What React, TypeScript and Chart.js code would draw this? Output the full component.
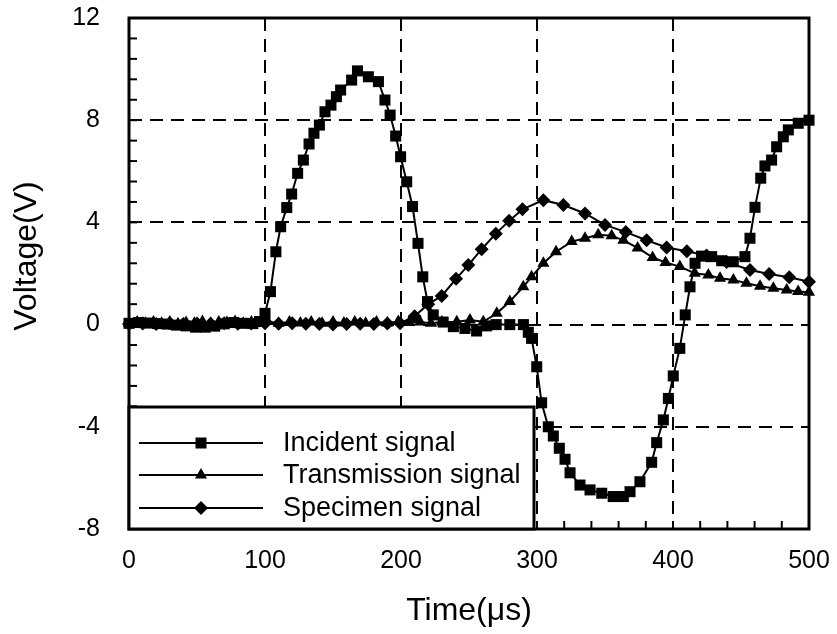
import React, { useEffect, useRef } from 'react';
import { Chart, registerables } from 'chart.js';

Chart.register(...registerables);

// ---------- data ----------
const incidentT = [0, 7, 14, 21, 28, 35, 42, 49, 56, 63, 70, 77, 84, 91, 96, 100, 104, 108, 111.5, 116, 119.6, 124, 128.2, 132.4, 136, 140, 144.1, 148.5, 152.5, 155.6, 163.7, 168, 176, 183.4, 188.2, 192, 196.1, 199.7, 204.2, 208.5, 212.5, 216, 219.5, 223.7, 231, 238.5, 247, 255.6, 263, 270, 280, 290, 293.6, 296, 299.8, 303.4, 308.3, 312, 316.4, 320.6, 324.3, 331.6, 339, 347.6, 356, 363.5, 368.4, 375.7, 384.3, 388, 392.9, 396.6, 400.2, 405, 409, 412.5, 416.2, 421, 428.4, 435.8, 444.3, 452.9, 456.6, 460.3, 464.5, 467.6, 472.5, 476.2, 481.1, 484.8, 492.1, 500];
const incidentV = [0.05, 0.08, 0.06, 0.04, 0.02, -0.02, -0.05, -0.1, -0.1, -0.06, 0.03, 0.08, 0.05, 0.04, 0.12, 0.44, 1.29, 2.85, 3.83, 4.58, 5.11, 5.92, 6.44, 7.07, 7.49, 7.81, 8.33, 8.59, 8.92, 9.18, 9.57, 9.93, 9.7, 9.51, 8.79, 8.2, 7.38, 6.57, 5.59, 4.62, 3.18, 1.87, 0.9, 0.38, 0.1, -0.08, -0.15, -0.25, -0.05, 0.0, 0.0, 0.0, -0.3, -0.54, -1.65, -3.06, -4.0, -4.36, -4.84, -5.27, -5.8, -6.28, -6.47, -6.6, -6.73, -6.73, -6.54, -6.15, -5.39, -4.62, -3.73, -2.89, -2.01, -0.93, 0.38, 1.48, 2.4, 2.68, 2.66, 2.5, 2.46, 2.66, 3.38, 4.59, 5.73, 6.21, 6.44, 6.96, 7.35, 7.62, 7.88, 8.0];

const transmissionT = [0, 6, 12, 18, 24, 30, 36, 42, 48, 54, 60, 66, 72, 78, 84, 90, 96, 102, 110, 118, 126, 134, 142, 150, 158, 166, 174, 182, 190, 198, 206, 214, 222, 230, 241, 250.7, 260.5, 270.4, 280, 289.9, 296, 304.7, 314, 325.5, 335.3, 345, 354.9, 363.5, 374, 385, 394.5, 405, 416, 426, 434.6, 444.4, 454, 464, 473.8, 483.6, 492, 500];
const transmissionV = [0.05, 0.1, 0.05, 0.1, 0.05, 0.1, 0.03, 0.08, 0.05, 0.12, 0.05, 0.1, 0.08, 0.12, 0.05, 0.1, 0.08, 0.12, 0.05, 0.1, 0.06, 0.1, 0.05, 0.1, 0.06, 0.1, 0.05, 0.1, 0.06, 0.12, 0.08, 0.1, 0.05, 0.1, 0.11, 0.18, 0.11, 0.44, 0.9, 1.48, 1.87, 2.4, 2.85, 3.25, 3.38, 3.52, 3.48, 3.3, 3.0, 2.63, 2.43, 2.27, 2.01, 1.94, 1.81, 1.75, 1.62, 1.5, 1.42, 1.35, 1.3, 1.27];

const specimenT = [0, 10, 20, 30, 40, 50, 60, 70, 80, 90, 100, 110, 120, 130, 140, 150, 160, 170, 180, 190, 199.3, 210, 220, 229.9, 240.5, 249.5, 259.3, 269.7, 279.5, 289.3, 304.7, 319.4, 335.3, 350, 365.3, 380.6, 395.3, 410.2, 424.7, 439.4, 456.6, 470.7, 485.5, 500];
const specimenV = [0.02, 0.04, 0.02, 0.05, 0.02, 0.04, 0.03, 0.05, 0.03, 0.04, 0.05, 0.03, 0.05, 0.03, 0.02, 0.0, 0.02, 0.03, 0.02, 0.04, 0.05, 0.33, 0.8, 1.12, 1.79, 2.33, 2.95, 3.56, 4.06, 4.51, 4.87, 4.68, 4.35, 3.9, 3.62, 3.3, 3.02, 2.87, 2.7, 2.45, 2.14, 1.98, 1.85, 1.68];

const seriesNames = ['Incident signal', 'Transmission signal', 'Specimen signal'];
const seriesMarkers = ['rect', 'triangle', 'rectRot'];

const xMin = 0;
const xMax = 500;
const xStep = 100;
const xMinorStep = 20;
const yMin = -8;
const yMax = 12;
const yStep = 4;
const yMinorStep = 0.8;

const xTitle = 'Time(μs)';
const yTitle = 'Voltage(V)';

const FONT = '"Liberation Sans", Arial, Helvetica, sans-serif';

function toPoints(t: number[], v: number[]) {
  return t.map((x, i) => ({ x, y: v[i] }));
}

function drawMarker(ctx: CanvasRenderingContext2D, kind: string, x: number, y: number) {
  ctx.beginPath();
  if (kind === 'rect') {
    ctx.rect(x - 5.5, y - 5.5, 11, 11);
  } else if (kind === 'triangle') {
    const r = 7;
    for (let k = 0; k < 3; k++) {
      const a = -Math.PI / 2 + (k * 2 * Math.PI) / 3;
      const px = x + Math.cos(a) * r;
      const py = y + Math.sin(a) * r;
      if (k === 0) ctx.moveTo(px, py);
      else ctx.lineTo(px, py);
    }
    ctx.closePath();
  } else {
    const r = 7;
    ctx.moveTo(x - r, y);
    ctx.lineTo(x, y - r);
    ctx.lineTo(x + r, y);
    ctx.lineTo(x, y + r);
    ctx.closePath();
  }
  ctx.fill();
}

const decorPlugin = {
  id: 'decor',
  beforeDatasetsDraw(chart: any) {
    const { ctx, chartArea: a, scales } = chart;
    const xs = scales.x;
    const ys = scales.y;
    ctx.save();
    ctx.strokeStyle = '#000';
    ctx.lineWidth = 2;
    ctx.setLineDash([13, 8]);
    for (let v = xMin + xStep; v < xMax; v += xStep) {
      const px = Math.round(xs.getPixelForValue(v));
      ctx.beginPath();
      ctx.moveTo(px, a.top);
      ctx.lineTo(px, a.bottom);
      ctx.stroke();
    }
    for (let v = yMin + yStep; v < yMax; v += yStep) {
      const py = Math.round(ys.getPixelForValue(v));
      ctx.beginPath();
      ctx.moveTo(a.left, py);
      ctx.lineTo(a.right, py);
      ctx.stroke();
    }
    ctx.restore();
  },
  afterDatasetsDraw(chart: any) {
    const { ctx, chartArea: a, scales } = chart;
    const xs = scales.x;
    const ys = scales.y;
    ctx.save();
    ctx.strokeStyle = '#000';
    ctx.fillStyle = '#000';
    ctx.setLineDash([]);
    // minor/major ticks, pointing inward
    ctx.lineWidth = 2;
    const nx = Math.round((xMax - xMin) / xMinorStep);
    for (let i = 1; i < nx; i++) {
      const px = xs.getPixelForValue(xMin + i * xMinorStep);
      ctx.beginPath();
      ctx.moveTo(px, a.bottom);
      ctx.lineTo(px, a.bottom - 8);
      ctx.stroke();
    }
    const ny = Math.round((yMax - yMin) / yMinorStep);
    for (let i = 1; i < ny; i++) {
      const py = ys.getPixelForValue(yMin + i * yMinorStep);
      ctx.beginPath();
      ctx.moveTo(a.left, py);
      ctx.lineTo(a.left + 8, py);
      ctx.stroke();
    }
    // frame
    ctx.lineWidth = 3;
    ctx.strokeRect(a.left, a.top, a.right - a.left, a.bottom - a.top);

    // legend box
    const lx = a.left;
    const lw = 405;
    const lh = 122;
    const ly = a.bottom - lh;
    ctx.fillStyle = '#fff';
    ctx.fillRect(lx, ly, lw, lh);
    ctx.lineWidth = 3;
    ctx.strokeStyle = '#000';
    ctx.strokeRect(lx, ly, lw, lh);
    const rows = [36, 68, 101];
    ctx.font = `27px ${FONT}`;
    ctx.textBaseline = 'middle';
    ctx.textAlign = 'left';
    seriesNames.forEach((name, i) => {
      const ry = ly + rows[i];
      ctx.strokeStyle = '#000';
      ctx.lineWidth = 2;
      ctx.beginPath();
      ctx.moveTo(lx + 10, ry);
      ctx.lineTo(lx + 134, ry);
      ctx.stroke();
      ctx.fillStyle = '#000';
      drawMarker(ctx, seriesMarkers[i], lx + 72, ry);
      ctx.fillText(name, lx + 154, ry + 1);
    });

    // axis titles
    ctx.fillStyle = '#000';
    ctx.font = `32px ${FONT}`;
    ctx.textAlign = 'center';
    ctx.textBaseline = 'alphabetic';
    ctx.fillText(xTitle, (a.left + a.right) / 2, 620);
    ctx.save();
    ctx.translate(36, 256);
    ctx.rotate(-Math.PI / 2);
    ctx.fillText(yTitle, 0, 0);
    ctx.restore();
    ctx.restore();
  },
};

export default function App() {
  const canvasRef = useRef<HTMLCanvasElement | null>(null);

  useEffect(() => {
    const canvas = canvasRef.current;
    if (!canvas) return;
    const common = {
      borderColor: '#000',
      backgroundColor: '#000',
      pointBackgroundColor: '#000',
      pointBorderColor: '#000',
      borderWidth: 2,
      pointBorderWidth: 0,
      tension: 0,
      showLine: true,
      clip: 12,
    };
    const chart = new Chart(canvas, {
      type: 'scatter',
      data: {
        datasets: [
          { ...common, label: seriesNames[0], data: toPoints(incidentT, incidentV), pointStyle: 'rect', pointRadius: 7.8 },
          { ...common, label: seriesNames[1], data: toPoints(transmissionT, transmissionV), pointStyle: 'triangle', pointRadius: 7 },
          { ...common, label: seriesNames[2], data: toPoints(specimenT, specimenV), pointStyle: 'rectRot', pointRadius: 7 },
        ] as any,
      },
      options: {
        responsive: false,
        animation: false,
        events: [],
        layout: { padding: { top: 18, right: 28, left: 0, bottom: 0 } },
        plugins: {
          legend: { display: false },
          tooltip: { enabled: false },
          title: { display: false },
        },
        scales: {
          x: {
            type: 'linear',
            min: xMin,
            max: xMax,
            grid: { display: false, drawTicks: false },
            border: { display: false },
            ticks: {
              stepSize: xStep,
              color: '#000',
              padding: 17,
              font: { family: FONT, size: 25 },
              maxRotation: 0,
            },
            afterFit: (s: any) => {
              s.height = 105;
              s.paddingLeft = 0;
              s.paddingRight = 0;
            },
          },
          y: {
            type: 'linear',
            min: yMin,
            max: yMax,
            grid: { display: false, drawTicks: false },
            border: { display: false },
            ticks: {
              stepSize: yStep,
              color: '#000',
              padding: 29,
              font: { family: FONT, size: 25 },
            },
            afterFit: (s: any) => {
              s.width = 129;
              s.paddingTop = 0;
              s.paddingBottom = 0;
            },
          },
        },
      },
      plugins: [decorPlugin],
    } as any);
    return () => chart.destroy();
  }, []);

  return (
    <div style={{ position: 'fixed', left: 0, top: 0, width: 837, height: 634, background: '#fff' }}>
      <canvas ref={canvasRef} width={837} height={634} style={{ width: 837, height: 634, display: 'block' }} />
    </div>
  );
}
